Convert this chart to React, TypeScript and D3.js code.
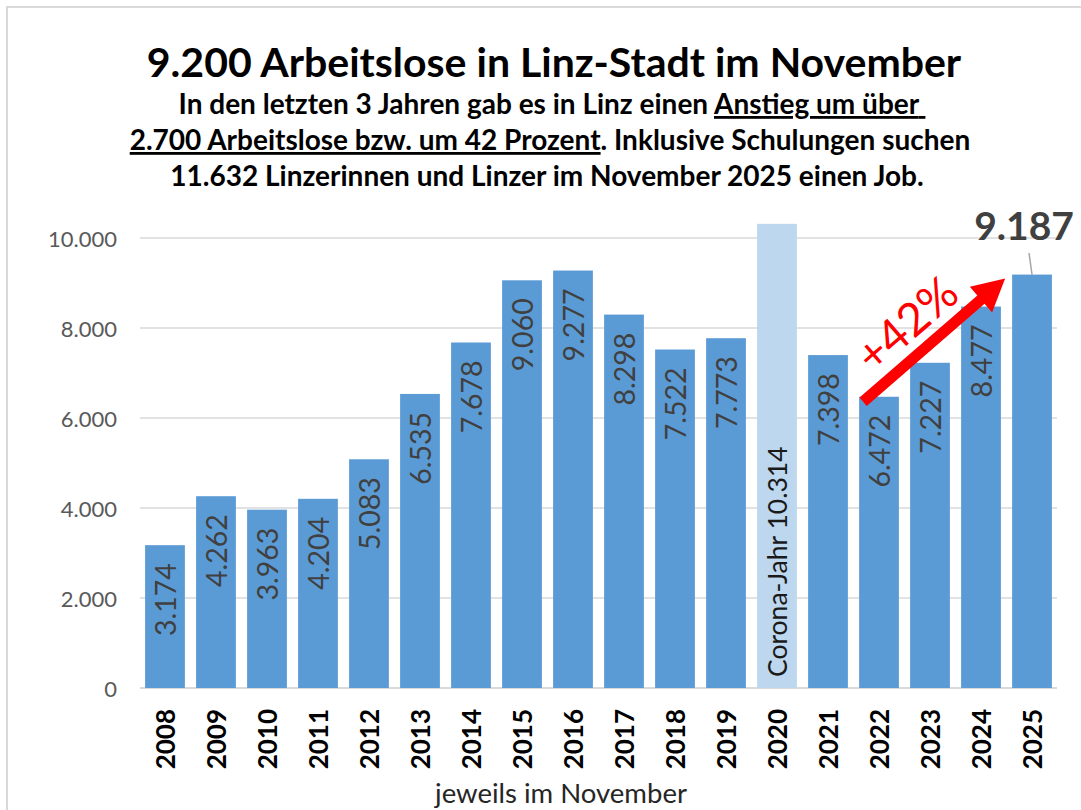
import React, { useEffect } from 'react';
import * as d3 from 'd3';

const years = ['2008', '2009', '2010', '2011', '2012', '2013', '2014', '2015', '2016', '2017', '2018', '2019', '2020', '2021', '2022', '2023', '2024', '2025'];
const values = [3174, 4262, 3963, 4204, 5083, 6535, 7678, 9060, 9277, 8298, 7522, 7773, 10314, 7398, 6472, 7227, 8477, 9187];
const yTicks = [0, 2000, 4000, 6000, 8000, 10000];
const coronaYear = '2020';
const lastYear = '2025';
const arrowFrom = '2022';

const title = '9.200 Arbeitslose in Linz-Stadt im November';
const xTitle = 'jeweils im November';

const W = 1081;
const H = 810;
const FONT = 'Lato, "Open Sans", sans-serif';

const locale = d3.formatLocale({ decimal: ',', thousands: '.', grouping: [3], currency: ['', '€'] });
const fmt = locale.format(',d');

const App: React.FC = () => {
  useEffect(() => {
    document.body.style.margin = '0';
  }, []);

  const x = d3.scaleBand<string>().domain(years).range([140, 1057]).paddingInner(0.22).paddingOuter(0.1);
  const y = d3.scaleLinear().domain([0, 10000]).range([688, 238]);
  const bw = x.bandwidth();

  // arrow from 2022 bar to 2025 bar
  const idxFrom = years.indexOf(arrowFrom);
  const x0 = (x(arrowFrom) ?? 0) + 4;
  const y0 = y(values[idxFrom]) + 5;
  const x1 = (x(lastYear) ?? 0) - 7;
  const y1 = y(values[values.length - 1]) + 4;
  const ang = Math.atan2(y1 - y0, x1 - x0);
  const len = Math.hypot(x1 - x0, y1 - y0);
  const headLen = 32;
  const headW = 17;
  const shaftW = 5.5;
  const arrowPts = [
    [0, -shaftW], [len - headLen, -shaftW], [len - headLen, -headW], [len, 0],
    [len - headLen, headW], [len - headLen, shaftW], [0, shaftW],
  ].map((p) => p.join(',')).join(' ');

  const lastX = (x(lastYear) ?? 0) + bw / 2;
  const lastY = y(values[values.length - 1]);

  return (
    <svg width={W} height={H} style={{ display: 'block', background: '#fff' }} fontFamily={FONT}>
      <rect x={7} y={7} width={W + 10} height={H + 10} fill="#fff" stroke="#d9d9d9" strokeWidth={2} />

      {/* titles */}
      <text x={554} y={77} textAnchor="middle" fontSize={41} fontWeight={700} fill="#000">{title}</text>
      <g fontSize={28} fontWeight={700} fill="#000" textAnchor="middle">
        <text x={552} y={114}>
          In den letzten 3 Jahren gab es in Linz einen <tspan textDecoration="underline">Anstieg um über{'\u00A0'}</tspan>
        </text>
        <text x={550} y={150}>
          <tspan textDecoration="underline">2.700 Arbeitslose bzw. um 42 Prozent</tspan>. Inklusive Schulungen suchen
        </text>
        <text x={547} y={186}>11.632 Linzerinnen und Linzer im November 2025 einen Job.</text>
      </g>

      {/* grid + y ticks */}
      {yTicks.map((t) => (
        <g key={t}>
          <line x1={140} x2={1057} y1={y(t)} y2={y(t)} stroke="#d9d9d9" strokeWidth={t === 0 ? 2 : 1.5} />
          <text x={117} y={y(t)} textAnchor="end" dominantBaseline="central" fontSize={22} fill="#595959">
            {fmt(t)}
          </text>
        </g>
      ))}

      {/* bars */}
      {years.map((yr, i) => (
        <rect
          key={yr}
          x={x(yr)}
          y={y(values[i])}
          width={bw}
          height={y(0) - y(values[i])}
          fill={yr === coronaYear ? '#bdd7ee' : '#5b9bd5'}
        />
      ))}

      {/* value labels */}
      {years.map((yr, i) => {
        if (yr === lastYear) return null;
        const cx = (x(yr) ?? 0) + bw / 2;
        if (yr === coronaYear) {
          return (
            <text key={yr} transform={`translate(${cx},${y(0) - 11}) rotate(-90)`} textAnchor="start" dominantBaseline="central" fontSize={26.5} fill="#1a1a1a">
              {`Corona-Jahr ${fmt(values[i])}`}
            </text>
          );
        }
        return (
          <text key={yr} transform={`translate(${cx},${y(values[i]) + 18}) rotate(-90)`} textAnchor="end" dominantBaseline="central" fontSize={28.5} fill="#404040">
            {fmt(values[i])}
          </text>
        );
      })}

      {/* x axis labels */}
      {years.map((yr) => (
        <text key={yr} transform={`translate(${(x(yr) ?? 0) + bw / 2},709) rotate(-90)`} textAnchor="end" dominantBaseline="central" fontSize={26} fontWeight={700} fill="#000">
          {yr}
        </text>
      ))}
      <text x={561} y={803} textAnchor="middle" fontSize={27.5} fill="#262626">{xTitle}</text>

      {/* last value callout */}
      <line x1={lastX - 3} y1={253} x2={lastX} y2={lastY} stroke="#a6a6a6" strokeWidth={1.5} />
      <text x={1024} y={240} textAnchor="middle" fontSize={39} fontWeight={700} fill="#404040">
        {fmt(values[values.length - 1])}
      </text>

      {/* red arrow */}
      <polygon points={arrowPts} fill="#ff0000" transform={`translate(${x0},${y0}) rotate(${(ang * 180) / Math.PI})`} />
      <text transform={`translate(906,323) rotate(-41)`} textAnchor="middle" dominantBaseline="central" fontSize={46} fill="#ff0000">
        +42%
      </text>
    </svg>
  );
};

export default App;
